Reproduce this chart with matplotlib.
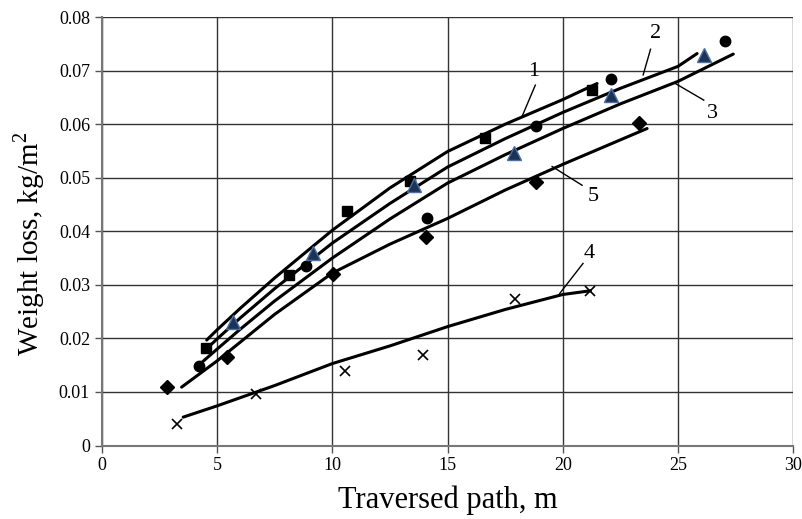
import numpy as np
import matplotlib
matplotlib.use("Agg")
import matplotlib.pyplot as plt

plt.rcParams['font.family'] = ['Liberation Serif', 'DejaVu Serif']
plt.rcParams['mathtext.fontset'] = 'custom'
plt.rcParams['mathtext.rm'] = 'Liberation Serif'

# --- measured points ---
sq_x = [4.52, 8.11, 10.63, 13.38, 16.61, 21.27]
sq_y = [0.0182, 0.0318, 0.0438, 0.0494, 0.0575, 0.0664]
ci_x = [4.23, 8.86, 14.1, 18.85, 22.1, 27.06]
ci_y = [0.0149, 0.0335, 0.0424, 0.0597, 0.0684, 0.0755]
tr_x = [5.71, 9.18, 13.55, 17.87, 22.1, 26.12]
tr_y = [0.0231, 0.0359, 0.0486, 0.0546, 0.0655, 0.0729]
di_x = [2.81, 5.42, 10.02, 14.07, 18.85, 23.3]
di_y = [0.0109, 0.0166, 0.032, 0.039, 0.0493, 0.0602]
cr_x = [3.27, 6.69, 10.53, 13.93, 17.94, 21.2]
cr_y = [0.004, 0.0096, 0.0139, 0.0169, 0.0274, 0.0289]

# --- fitted curves ---
c1_x = [4.55, 5, 6, 7.5, 10, 12.5, 15, 17.5, 20, 21.49]
c1_y = [0.0197, 0.0216, 0.0256, 0.0313, 0.0402, 0.0481, 0.0549, 0.0600, 0.0646, 0.0676]
c2_x = [4.4, 5, 6, 7.5, 10, 12.5, 15, 17.5, 20, 22.5, 25, 25.83]
c2_y = [0.0175, 0.0199, 0.0238, 0.0293, 0.0378, 0.0452, 0.052, 0.0573, 0.0622, 0.0667, 0.0708, 0.0732]
c3_x = [4.2, 5, 6, 7.5, 10, 12.5, 15, 17.5, 20, 22.5, 25, 27.4]
c3_y = [0.015, 0.018, 0.0217, 0.027, 0.035, 0.0423, 0.049, 0.0543, 0.0592, 0.0638, 0.068, 0.0731]
c5_x = [3.46, 5, 7.5, 10, 12.5, 15, 17.5, 20, 23.66]
c5_y = [0.0109, 0.0158, 0.0245, 0.0322, 0.0376, 0.0424, 0.0477, 0.0525, 0.0592]
c4_x = [3.53, 5, 7.5, 10, 12.5, 15, 17.5, 20, 21.2]
c4_y = [0.0053, 0.0074, 0.0112, 0.0153, 0.0186, 0.0222, 0.0254, 0.0282, 0.0289]

# curve labels: text position, leader start, leader end
labels = ['1', '2', '3', '5', '4']
label_pos = [(18.74, 0.0698), (24.02, 0.0770), (26.49, 0.0620), (21.34, 0.0465), (21.13, 0.0359)]
leader_a = [(18.81, 0.0673), (23.81, 0.0740), (26.12, 0.0645), (20.84, 0.0486), (20.88, 0.0340)]
leader_b = [(18.23, 0.0614), (23.49, 0.0692), (24.89, 0.0676), (19.54, 0.0521), (19.87, 0.0284)]

fig = plt.figure(figsize=(8.02, 5.19), dpi=100)
ax = fig.add_axes([0.127, 0.1416, 0.862, 0.8254])

for cx, cy in [(c1_x, c1_y), (c2_x, c2_y), (c3_x, c3_y), (c5_x, c5_y), (c4_x, c4_y)]:
    ax.plot(cx, cy, color='black', lw=2.2, solid_capstyle='round', solid_joinstyle='round', zorder=3)

ax.plot(sq_x, sq_y, 's', color='black', ms=7.5, zorder=4)
ax.plot(ci_x, ci_y, 'o', color='black', ms=7.5, zorder=4)
ax.plot(tr_x, tr_y, '^', mfc='#1c3358', mec='#4a6fa0', mew=1, ms=9.5, zorder=4)
ax.plot(di_x, di_y, 'D', color='black', ms=7.5, zorder=4)
ax.plot(cr_x, cr_y, 'x', color='black', ms=7, mew=1.2, zorder=4)

for lab, p, a, b in zip(labels, label_pos, leader_a, leader_b):
    ax.plot([a[0], b[0]], [a[1], b[1]], color='black', lw=1, zorder=3)
    ax.text(p[0], p[1], lab, fontsize=16, ha='center', va='center')

ax.set_xlim(0, 30)
ax.set_ylim(0, 0.08)
ax.set_xticks(np.arange(0, 31, 5))
yt = np.arange(0, 0.081, 0.01)
ax.set_yticks(yt)
ax.set_yticklabels(['0'] + ['%.2f' % v for v in yt[1:]])
ax.grid(True, color='#333333', lw=1)
ax.set_axisbelow(True)
for s in ['left', 'bottom']:
    ax.spines[s].set_color('#777777')
    ax.spines[s].set_linewidth(1.5)
for s in ['top', 'right']:
    ax.spines[s].set_visible(False)
ax.tick_params(direction='out', length=5, width=1, color='#555555', labelsize=13)

ax.set_xlabel('Traversed path, m', fontsize=22, labelpad=8)
ax.set_ylabel('Weight loss, kg/m$^2$', fontsize=21)
ax.yaxis.set_label_coords(-0.08, 0.47)

fig.savefig('out.png', dpi=100)
